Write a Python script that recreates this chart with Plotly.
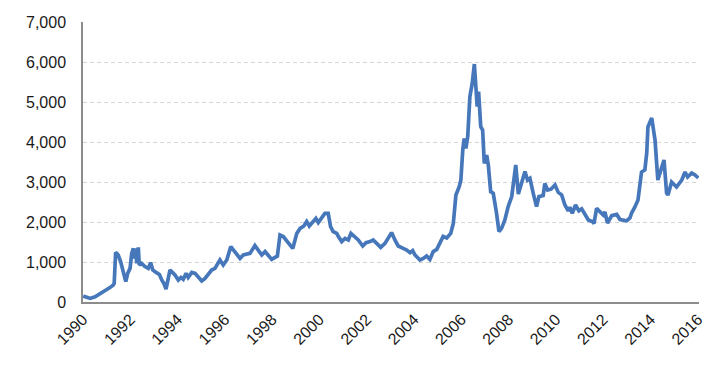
import plotly.graph_objects as go

# Time (decimal years) and values
years = [
    1990.01, 1990.30, 1990.51, 1990.72, 1990.93, 1991.14, 1991.28, 1991.32, 1991.38, 1991.49,
    1991.59, 1991.70, 1991.81, 1991.89, 1991.99, 1992.06, 1992.13, 1992.17, 1992.23, 1992.27,
    1992.34, 1992.38, 1992.48, 1992.62, 1992.76, 1992.86, 1992.95, 1993.09, 1993.23, 1993.33,
    1993.42, 1993.51, 1993.61, 1993.68, 1993.79, 1993.89, 1994.03, 1994.14, 1994.24, 1994.36,
    1994.45, 1994.60, 1994.74, 1994.88, 1995.02, 1995.16, 1995.30, 1995.44, 1995.58, 1995.72,
    1995.79, 1995.93, 1996.08, 1996.25, 1996.36, 1996.57, 1996.64, 1996.78, 1996.92, 1997.06,
    1997.27, 1997.41, 1997.56, 1997.70, 1997.84, 1997.98, 1998.12, 1998.22, 1998.33, 1998.47,
    1998.64, 1998.87, 1999.04, 1999.18, 1999.34, 1999.46, 1999.57, 1999.74, 1999.85, 1999.95,
    2000.09, 2000.23, 2000.37, 2000.47, 2000.58, 2000.73, 2000.80, 2000.94, 2001.08, 2001.22,
    2001.33, 2001.50, 2001.64, 2001.83, 2001.97, 2002.14, 2002.27, 2002.42, 2002.59, 2002.77,
    2002.91, 2003.05, 2003.19, 2003.33, 2003.54, 2003.69, 2003.83, 2003.94, 2004.04, 2004.25,
    2004.39, 2004.53, 2004.67, 2004.81, 2004.96, 2005.10, 2005.23, 2005.38, 2005.55, 2005.66,
    2005.77, 2005.91, 2005.98, 2006.06, 2006.12, 2006.19, 2006.27, 2006.36, 2006.46, 2006.55,
    2006.62, 2006.67, 2006.73, 2006.82, 2006.90, 2006.97, 2007.07, 2007.14, 2007.24, 2007.35,
    2007.49, 2007.59, 2007.70, 2007.84, 2007.98, 2008.13, 2008.22, 2008.30, 2008.41, 2008.55,
    2008.69, 2008.80, 2008.90, 2009.04, 2009.18, 2009.28, 2009.46, 2009.53, 2009.65, 2009.79,
    2009.96, 2010.10, 2010.24, 2010.38, 2010.52, 2010.59, 2010.69, 2010.83, 2010.97, 2011.09,
    2011.23, 2011.37, 2011.54, 2011.61, 2011.72, 2011.86, 2012.00, 2012.07, 2012.18, 2012.36,
    2012.57, 2012.71, 2012.99, 2013.13, 2013.20, 2013.34, 2013.47, 2013.62, 2013.76, 2013.84,
    2013.89, 2014.05, 2014.19, 2014.31, 2014.47, 2014.57, 2014.68, 2014.74, 2014.89, 2015.10,
    2015.32, 2015.46, 2015.57, 2015.74, 2015.88, 2016.02,
]
values = [
    150, 90, 130, 200, 275, 360, 425, 470, 1240, 1175,
    1010, 715, 510, 715, 840, 1215, 1340, 1090, 1340, 965,
    1365, 925, 965, 885, 840, 985, 800, 740, 690, 550,
    465, 325, 675, 800, 735, 675, 550, 615, 565, 715,
    615, 740, 715, 635, 525, 590, 715, 800, 840, 965,
    1050, 925, 1050, 1385, 1300, 1175, 1090, 1175, 1200, 1215,
    1410, 1300, 1175, 1260, 1175, 1065, 1115, 1150, 1675, 1635,
    1510, 1340, 1715, 1840, 1900, 2010, 1900, 2035, 2090, 1985,
    2115, 2215, 2215, 1885, 1760, 1715, 1635, 1510, 1590, 1550,
    1715, 1635, 1550, 1400, 1485, 1510, 1550, 1465, 1365, 1465,
    1615, 1735, 1550, 1400, 1340, 1300, 1235, 1285, 1175, 1050,
    1090, 1150, 1065, 1260, 1315, 1500, 1640, 1600, 1715, 1965,
    2675, 2885, 3050, 3800, 4090, 3840, 4135, 5135, 5465, 5950,
    5465, 4885, 5260, 4385, 4300, 3465, 3675, 3425, 2760, 2715,
    2215, 1760, 1840, 2050, 2385, 2635, 3050, 3425, 2700, 2965,
    3260, 3050, 3090, 2715, 2385, 2635, 2660, 2965, 2800, 2820,
    2925, 2740, 2680, 2425, 2280, 2370, 2215, 2425, 2280, 2330,
    2175, 2050, 2010, 1965, 2340, 2260, 2175, 2250, 1975, 2160,
    2190, 2060, 2030, 2100, 2225, 2375, 2550, 3250, 3300, 3725,
    4375, 4600, 4050, 3050, 3375, 3550, 2725, 2675, 3000, 2875,
    3050, 3250, 3125, 3225, 3175, 3100,
]

x_tick_vals = [1990, 1992, 1994, 1996, 1998, 2000, 2002, 2004, 2006, 2008, 2010, 2012, 2014, 2016]
x_tick_text = [str(v) for v in x_tick_vals]
y_tick_vals = [0, 1000, 2000, 3000, 4000, 5000, 6000, 7000]
y_tick_text = ["0", "1,000", "2,000", "3,000", "4,000", "5,000", "6,000", "7,000"]

fig = go.Figure()
fig.add_trace(go.Scatter(
    x=years, y=values, mode="lines",
    line=dict(color="#4677ba", width=3.7),
    hoverinfo="skip", showlegend=False,
))

font_family = "Liberation Sans, Arial, sans-serif"

fig.update_layout(
    width=715, height=373,
    margin=dict(l=75, r=24, t=14, b=79),
    paper_bgcolor="white", plot_bgcolor="white",
    font=dict(family=font_family, size=16, color="#1a1a1a"),
    xaxis=dict(
        range=[1990, 2016.05],
        tickmode="array", tickvals=x_tick_vals, ticktext=x_tick_text,
        tickangle=-45, automargin=False,
        showgrid=False, zeroline=False,
        showline=True, linecolor="#8c8c8c", linewidth=1.5,
        ticks="", tickfont=dict(size=16),
    ),
    yaxis=dict(
        range=[0, 7000], automargin=False,
        tickmode="array", tickvals=y_tick_vals, ticktext=y_tick_text,
        showgrid=True, gridcolor="#d6d6d6", griddash="4px,3px", gridwidth=1,
        zeroline=False,
        showline=True, linecolor="#8c8c8c", linewidth=1.5,
        ticks="", ticklabelstandoff=12, tickfont=dict(size=16),
    ),
)

fig.write_html("out.html")
